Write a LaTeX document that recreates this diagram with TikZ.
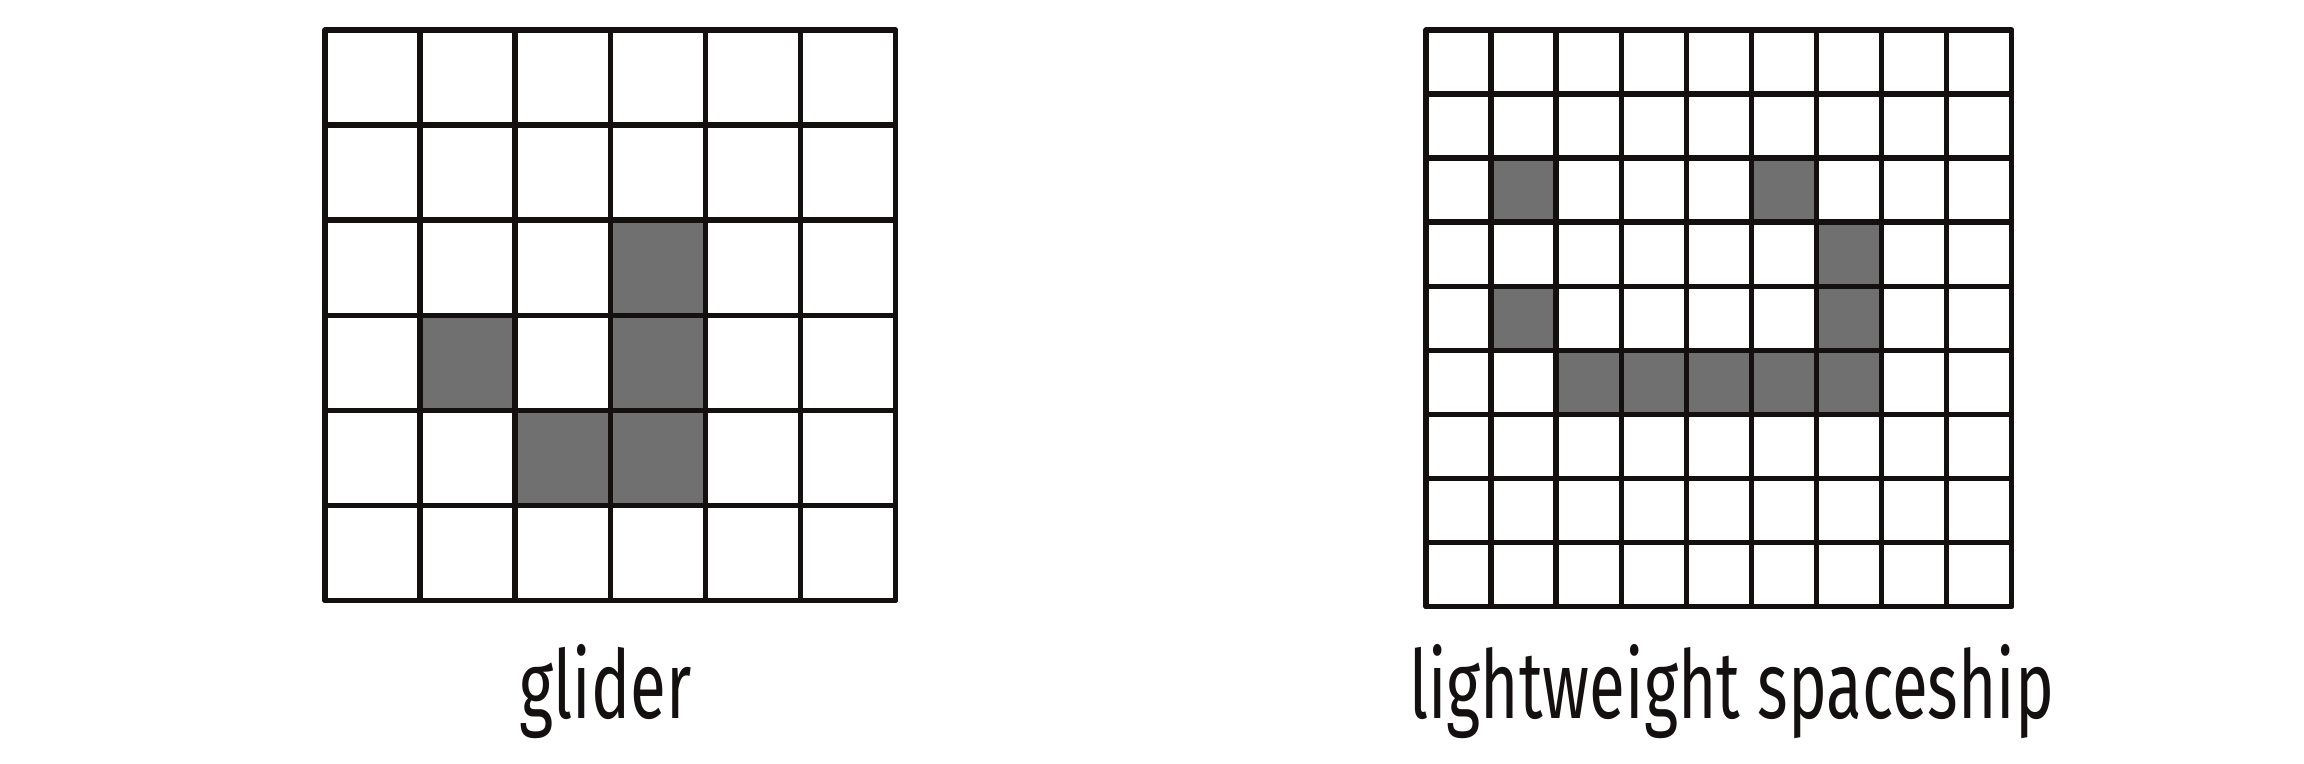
\documentclass[tikz,border=0pt]{standalone}
\usepackage{fontspec}
\newfontfamily\handfont[FakeStretch=0.69]{Fira Sans}
\usetikzlibrary{positioning}
\definecolor{myink}{RGB}{20,16,16}
\definecolor{mygray}{RGB}{112,112,112}
\tikzset{
  live/.style={fill=mygray},
  gridline/.style={line width=1.5pt, color=myink, line cap=round},
  caption/.style={font=\handfont\fontsize{27}{32}\selectfont, color=myink, inner sep=0pt}
}

\begin{document}
\begin{tikzpicture}[x=0.01cm, y=-0.01cm]
  \useasboundingbox (0,0) rectangle (2304,763);
  % Glider
  \begin{scope}[shift={(325,30)}, x=0.95cm, y=-0.95cm]
    \foreach \c/\r in {3/2, 1/3, 3/3, 2/4, 3/4}
      \fill[live] (\c,\r) rectangle ++(1,1);
    \foreach \i in {0,...,6} {
      \draw[gridline] (\i,0) -- (\i,6);
      \draw[gridline] (0,\i) -- (6,\i);
    }
    \coordinate (gliderbase) at (2.95,6);
  \end{scope}
  \node[caption, below=0.43cm of gliderbase] (glidername) {glider};
  % Lightweight spaceship
  \begin{scope}[shift={(1426,30)}, x=0.65cm, y=-0.64cm]
    \foreach \c/\r in {1/2, 5/2, 6/3, 1/4, 6/4, 2/5, 3/5, 4/5, 5/5, 6/5}
      \fill[live] (\c,\r) rectangle ++(1,1);
    \foreach \i in {0,...,9} {
      \draw[gridline] (\i,0) -- (\i,9);
      \draw[gridline] (0,\i) -- (9,\i);
    }
    \coordinate (shipbase) at (4.7,9);
  \end{scope}
  \node[caption, below=0.37cm of shipbase] (shipname) {lightweight spaceship};
\end{tikzpicture}
\end{document}
